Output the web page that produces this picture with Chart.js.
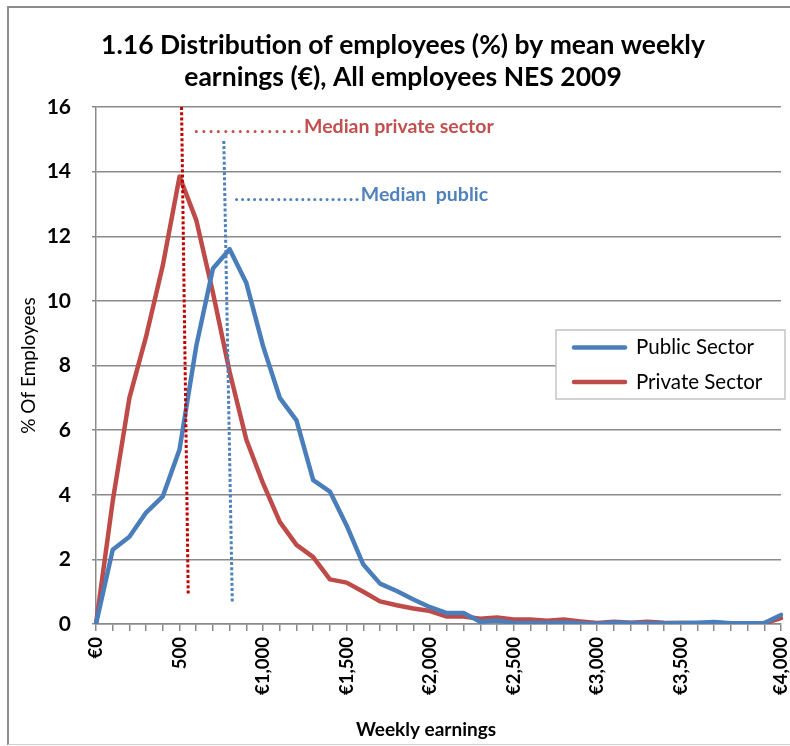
<!DOCTYPE html>
<html>
<head>
<meta charset="utf-8">
<script src="https://cdn.jsdelivr.net/npm/chart.js@4.4.1/dist/chart.umd.min.js"></script>
<style>
  html, body { margin: 0; padding: 0; background: #ffffff; }
  #wrap { position: relative; width: 790px; height: 746px; overflow: hidden; }
  #wrap canvas { position: absolute; left: 0; top: 0; }
  #frame {
    position: absolute; left: 7px; top: 6px; width: 800px; height: 739px;
    border-left: 2px solid #8c8c8c; border-top: 2px solid #8c8c8c;
    border-bottom: 1px solid #cfcfcf; box-sizing: border-box; pointer-events: none;
  }
</style>
</head>
<body>
<div id="wrap">
  <canvas id="chart" width="790" height="746"></canvas>
  <div id="frame"></div>
</div>
<script>
// Weekly earnings bands (€100 steps); only every fifth band is labelled
const earningsBands = [
  '€0', '', '', '', '', '500', '', '', '', '',
  '€1,000', '', '', '', '', '€1,500', '', '', '', '',
  '€2,000', '', '', '', '', '€2,500', '', '', '', '',
  '€3,000', '', '', '', '', '€3,500', '', '', '', '', '',
  '€4,000'
];

// Share of employees (%) in each earnings band
const publicSector = [
  0, 2.3, 2.7, 3.45, 3.95, 5.4, 8.6, 11.0, 11.6, 10.55,
  8.6, 7.0, 6.3, 4.45, 4.1, 3.05, 1.84, 1.25, 1.02, 0.76,
  0.52, 0.34, 0.34, 0.07, 0.11, 0.03, 0.03, 0.03, 0.05, 0.02,
  0.01, 0.05, 0.03, 0.02, 0.02, 0.03, 0.04, 0.06, 0.02, 0.02,
  0.03, 0.28
];
const privateSector = [
  0, 3.8, 7.0, 8.9, 11.1, 13.85, 12.5, 10.25, 7.8, 5.7,
  4.35, 3.16, 2.45, 2.07, 1.38, 1.28, 1.0, 0.7, 0.58, 0.48,
  0.4, 0.23, 0.23, 0.16, 0.2, 0.14, 0.14, 0.1, 0.14, 0.08,
  0.03, 0.07, 0.04, 0.07, 0.04, 0.03, 0.02, 0.01, 0.01, 0.01,
  0.02, 0.18
];

const seriesNames = ['Public Sector', 'Private Sector'];
const yTicks = [0, 2, 4, 6, 8, 10, 12, 14, 16];

// Median marker lines: [band position, % value] for the upper and lower ends
const medianPrivateLine = [[5.12, 16], [5.52, 0.94]];
const medianPublicLine = [[7.65, 14.95], [8.16, 0.63]];
// Median captions: [band position, % value] where the dotted leader starts
const medianPrivateCaption = [5.87, 15.39];
const medianPublicCaption = [8.27, 13.28];

const titleLines = [
  '1.16 Distribution of employees (%) by mean weekly',
  'earnings (€), All employees NES 2009'
];
const xTitle = 'Weekly earnings';
const yTitle = '% Of Employees';

const FONT = 'Lato, "Open Sans", sans-serif';
const BLUE = '#4A7EBB';
const RED = '#BE4B48';
const GRID = '#8a8a8a';

// caption = dotted leader followed by the label text
function drawCaption(ctx, x, y, dots, spacing, text, color) {
  ctx.fillStyle = color;
  ctx.letterSpacing = spacing + 'px';
  const leader = '.'.repeat(dots);
  ctx.fillText(leader, x, y);
  const w = ctx.measureText(leader).width;
  ctx.letterSpacing = '0px';
  ctx.fillText(text, x + w, y);
}

const decorations = {
  id: 'decorations',
  afterDatasetsDraw(chart) {
    const { ctx } = chart;
    const x = chart.scales.x, y = chart.scales.y;

    // dotted median lines
    const dotted = (pts, color) => {
      ctx.save();
      ctx.strokeStyle = color;
      ctx.lineWidth = 3;
      ctx.setLineDash([3, 2.2]);
      ctx.beginPath();
      ctx.moveTo(x.getPixelForValue(pts[0][0]), y.getPixelForValue(pts[0][1]));
      ctx.lineTo(x.getPixelForValue(pts[1][0]), y.getPixelForValue(pts[1][1]));
      ctx.stroke();
      ctx.restore();
    };
    dotted(medianPrivateLine, '#C00000');
    dotted(medianPublicLine, '#4F81BD');

    ctx.save();
    ctx.font = 'bold 19.5px ' + FONT;
    ctx.textBaseline = 'middle';
    ctx.textAlign = 'left';
    drawCaption(ctx, x.getPixelForValue(medianPrivateCaption[0]), y.getPixelForValue(medianPrivateCaption[1]),
      15, 2.7, 'Median private sector', '#C0504D');
    drawCaption(ctx, x.getPixelForValue(medianPublicCaption[0]), y.getPixelForValue(medianPublicCaption[1]),
      21, 1.4, 'Median  public', '#4F81BD');
    ctx.restore();
  },
  afterDraw(chart) {
    const { ctx } = chart;
    const area = chart.chartArea;
    ctx.save();
    // chart title
    ctx.fillStyle = '#000';
    ctx.textAlign = 'center';
    ctx.textBaseline = 'alphabetic';
    ctx.font = 'bold 26.5px ' + FONT;
    ctx.fillText(titleLines[0], 403, 54);
    ctx.fillText(titleLines[1], 403, 86);

    // axis titles
    ctx.font = 'bold 19px ' + FONT;
    ctx.textBaseline = 'middle';
    ctx.fillText(xTitle, 426, 730);
    ctx.save();
    ctx.translate(29, (area.top + area.bottom) / 2);
    ctx.rotate(-Math.PI / 2);
    ctx.font = '19px ' + FONT;
    ctx.fillText(yTitle, 0, 0);
    ctx.restore();

    // legend
    const lx = 556, ly = 330, lw = 229, lh = 69;
    ctx.fillStyle = '#fff';
    ctx.fillRect(lx, ly, lw, lh);
    ctx.strokeStyle = '#c4c4c4';
    ctx.lineWidth = 1.5;
    ctx.strokeRect(lx, ly, lw, lh);
    ctx.font = '20.5px ' + FONT;
    ctx.textAlign = 'left';
    ctx.textBaseline = 'middle';
    chart.data.datasets.forEach((ds, i) => {
      const cy = 347.5 + i * 34.5;
      ctx.strokeStyle = ds.borderColor;
      ctx.lineWidth = 4.5;
      ctx.lineCap = 'round';
      ctx.beginPath();
      ctx.moveTo(574, cy);
      ctx.lineTo(625, cy);
      ctx.stroke();
      ctx.fillStyle = '#000';
      ctx.fillText(ds.label, 636, cy);
    });
    ctx.restore();
  }
};

new Chart(document.getElementById('chart'), {
  type: 'line',
  data: {
    labels: earningsBands,
    datasets: [
      {
        label: seriesNames[0], data: publicSector, borderColor: BLUE, backgroundColor: BLUE,
        borderWidth: 4.5, pointRadius: 0, tension: 0, borderJoinStyle: 'round', borderCapStyle: 'round'
      },
      {
        label: seriesNames[1], data: privateSector, borderColor: RED, backgroundColor: RED,
        borderWidth: 4.5, pointRadius: 0, tension: 0, borderJoinStyle: 'round', borderCapStyle: 'round'
      }
    ]
  },
  options: {
    responsive: false,
    animation: false,
    devicePixelRatio: 1,
    layout: { padding: { left: 0, right: 9, top: 107, bottom: 0 } },
    plugins: {
      legend: { display: false },
      tooltip: { enabled: false },
      title: { display: false }
    },
    scales: {
      x: {
        type: 'category',
        grid: { drawOnChartArea: false, drawTicks: true, tickLength: 7, color: GRID, lineWidth: 1.5 },
        border: { color: GRID, width: 1.5 },
        ticks: {
          autoSkip: false, minRotation: 90, maxRotation: 90, padding: 6,
          color: '#000', font: { family: FONT, size: 18.5, weight: 'bold' }
        },
        afterFit(scale) {
          scale.height = 122;
          scale.paddingLeft = 0;
          scale.paddingRight = 0;
        }
      },
      y: {
        min: 0, max: 16,
        afterBuildTicks(scale) { scale.ticks = yTicks.map(v => ({ value: v })); },
        grid: { color: GRID, lineWidth: 1.5, tickLength: 4 },
        border: { color: GRID, width: 1.5 },
        ticks: { padding: 21, color: '#000', font: { family: FONT, size: 21, weight: 'bold' } },
        afterFit(scale) { scale.width = 96; }
      }
    }
  },
  plugins: [decorations]
});
</script>
</body>
</html>
